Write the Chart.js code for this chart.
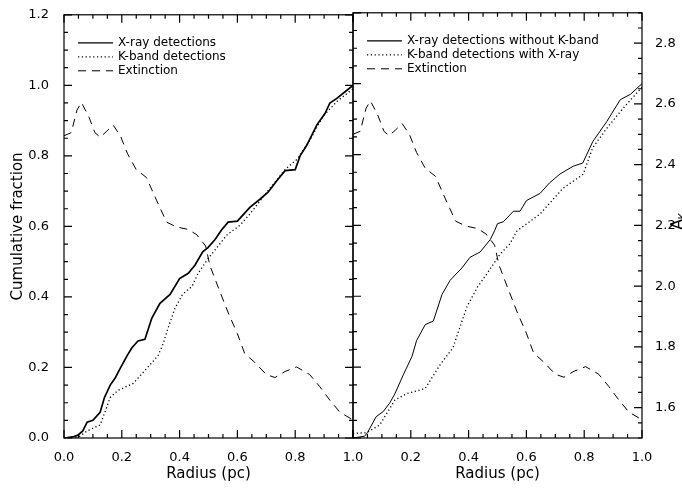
<!DOCTYPE html>
<html>
<head>
<meta charset="utf-8">
<script src="https://cdn.jsdelivr.net/npm/chart.js@4.4.1/dist/chart.umd.min.js"></script>
<style>
  html, body { margin: 0; padding: 0; background: #fff; }
  #wrap { position: relative; width: 682px; height: 489px; overflow: hidden; }
  #wrap canvas { position: absolute; top: 0; }
</style>
</head>
<body>
<div id="wrap">
  <canvas id="leftChart" width="380" height="489" style="left:0;width:380px;height:489px"></canvas>
  <canvas id="rightChart" width="336" height="489" style="left:346px;width:336px;height:489px"></canvas>
</div>
<script>
// left panel: all X-ray vs all K-band detections
const xrayR = [0, 0.03, 0.048, 0.065, 0.08, 0.10, 0.125, 0.14, 0.16, 0.177, 0.194, 0.218, 0.235, 0.256, 0.28, 0.304, 0.332, 0.367, 0.40, 0.43, 0.453, 0.48, 0.498, 0.522, 0.545, 0.568, 0.60, 0.643, 0.678, 0.706, 0.737, 0.765, 0.80, 0.817, 0.84, 0.875, 0.903, 0.92, 0.944, 0.979, 1.0];
const xrayF = [0, 0.003, 0.008, 0.02, 0.045, 0.05, 0.073, 0.115, 0.15, 0.17, 0.197, 0.233, 0.256, 0.275, 0.28, 0.34, 0.382, 0.407, 0.452, 0.467, 0.49, 0.528, 0.54, 0.562, 0.59, 0.612, 0.615, 0.654, 0.677, 0.697, 0.73, 0.758, 0.761, 0.80, 0.83, 0.888, 0.92, 0.95, 0.963, 0.986, 1.0];

const kbandR = [0, 0.03, 0.055, 0.08, 0.125, 0.14, 0.16, 0.187, 0.24, 0.273, 0.325, 0.343, 0.36, 0.384, 0.41, 0.443, 0.464, 0.498, 0.564, 0.61, 0.643, 0.702, 0.765, 0.806, 0.851, 0.896, 0.945, 1.0];
const kbandF = [0, 0, 0.005, 0.02, 0.037, 0.07, 0.115, 0.135, 0.155, 0.185, 0.233, 0.267, 0.312, 0.368, 0.407, 0.43, 0.467, 0.508, 0.576, 0.604, 0.635, 0.697, 0.761, 0.79, 0.845, 0.912, 0.955, 0.99];

// right panel: X-ray without K-band, K-band with X-ray
const xnokR = [0, 0.04, 0.05, 0.08, 0.105, 0.128, 0.145, 0.175, 0.204, 0.22, 0.25, 0.278, 0.308, 0.336, 0.377, 0.405, 0.44, 0.475, 0.49, 0.50, 0.52, 0.555, 0.578, 0.60, 0.623, 0.647, 0.68, 0.716, 0.762, 0.795, 0.83, 0.878, 0.925, 0.96, 1.0];
const xnokF = [0, 0.005, 0.015, 0.06, 0.075, 0.10, 0.125, 0.18, 0.23, 0.275, 0.32, 0.33, 0.405, 0.445, 0.48, 0.51, 0.525, 0.56, 0.585, 0.605, 0.61, 0.64, 0.64, 0.67, 0.68, 0.69, 0.72, 0.745, 0.767, 0.776, 0.837, 0.893, 0.955, 0.97, 1.0];

const kwxR = [0, 0.047, 0.093, 0.145, 0.185, 0.25, 0.30, 0.346, 0.394, 0.43, 0.463, 0.51, 0.543, 0.567, 0.647, 0.727, 0.796, 0.83, 0.878, 0.934, 1.0];
const kwxF = [0.013, 0.015, 0.037, 0.107, 0.125, 0.14, 0.205, 0.255, 0.37, 0.425, 0.463, 0.52, 0.548, 0.584, 0.632, 0.705, 0.744, 0.82, 0.874, 0.93, 0.99];

// extinction A_K vs radius (same curve in both panels, right axis)
const extR = [0, 0.025, 0.045, 0.06, 0.085, 0.107, 0.125, 0.148, 0.17, 0.195, 0.22, 0.25, 0.285, 0.32, 0.355, 0.39, 0.43, 0.46, 0.49, 0.505, 0.535, 0.57, 0.60, 0.625, 0.66, 0.70, 0.73, 0.765, 0.805, 0.85, 0.885, 0.92, 0.955, 1.0];
const extA = [2.50, 2.51, 2.585, 2.61, 2.565, 2.51, 2.495, 2.515, 2.535, 2.50, 2.44, 2.388, 2.362, 2.287, 2.214, 2.198, 2.19, 2.172, 2.135, 2.07, 1.995, 1.91, 1.845, 1.78, 1.75, 1.71, 1.70, 1.72, 1.735, 1.71, 1.67, 1.625, 1.585, 1.56];

// tick labels
const radiusTicks = [0, 0.2, 0.4, 0.6, 0.8, 1.0];
const fracTicks = [0, 0.2, 0.4, 0.6, 0.8, 1.0, 1.2];
const akTicks = [1.6, 1.8, 2.0, 2.2, 2.4, 2.6, 2.8];

const FONT = "'DejaVu Sans', sans-serif";

function pts(xs, ys) {
    return xs.map((x, i) => ({ x: x, y: ys[i] }));
}

function isMajor(v, step) {
    return Math.abs(v / step - Math.round(v / step)) < 1e-6;
}

// IDL style box with inward ticks on all four sides + legend inside
function idlFrame(rightAxis, legendItems, rightTitle) {
    return {
        id: 'idlFrame',
        afterDatasetsDraw(chart) {
            const ctx = chart.ctx, a = chart.chartArea;
            const xs = chart.scales.x, ys = chart.scales.y, y2 = chart.scales[rightAxis];
            ctx.save();
            ctx.strokeStyle = '#000';
            ctx.lineWidth = 1.2;
            ctx.setLineDash([]);
            ctx.strokeRect(a.left, a.top, a.width, a.height);
            ctx.beginPath();
            for (let i = 0; i <= 20; i++) {
                const v = i * 0.05;
                const px = xs.getPixelForValue(v);
                const len = isMajor(v, 0.2) ? 8 : 4;
                ctx.moveTo(px, a.bottom); ctx.lineTo(px, a.bottom - len);
                ctx.moveTo(px, a.top); ctx.lineTo(px, a.top + len);
            }
            for (let i = 0; i <= 24; i++) {
                const v = i * 0.05;
                const py = ys.getPixelForValue(v);
                const len = isMajor(v, 0.2) ? 8 : 4;
                ctx.moveTo(a.left, py); ctx.lineTo(a.left + len, py);
            }
            const n = Math.round((y2.max - y2.min) / 0.05);
            for (let i = 0; i <= n; i++) {
                const v = y2.min + i * 0.05;
                const py = y2.getPixelForValue(v);
                const len = isMajor(v, 0.2) ? 8 : 4;
                ctx.moveTo(a.right, py); ctx.lineTo(a.right - len, py);
            }
            ctx.stroke();

            // legend
            ctx.font = '12px ' + FONT;
            ctx.fillStyle = '#000';
            ctx.textBaseline = 'middle';
            legendItems.forEach((it, k) => {
                const y = a.top + 28 + k * 14;
                ctx.beginPath();
                ctx.lineWidth = it.width;
                ctx.setLineDash(it.dash);
                ctx.moveTo(a.left + 14, y);
                ctx.lineTo(a.left + 49, y);
                ctx.stroke();
                ctx.fillText(it.label, a.left + 54, y);
            });

            // right-hand axis title A_K, reading bottom to top
            if (rightTitle) {
                ctx.translate(a.right + 35, (a.top + a.bottom) / 2 - 2);
                ctx.rotate(-Math.PI / 2);
                ctx.textBaseline = 'alphabetic';
                ctx.font = '15px ' + FONT;
                ctx.fillText('A', -6, 5);
                ctx.font = '10px ' + FONT;
                ctx.fillText('K', 4, 9);
            }
            ctx.restore();
        }
    };
}

const solid = { dash: [], width: 1 };
const dotted = { dash: [1.2, 2.6], width: 1.3 };
const dashed = { dash: [8, 6], width: 1 };

function lineSet(label, data, style, axis, w) {
    return {
        label: label,
        data: data,
        yAxisID: axis,
        showLine: true,
        borderColor: '#000',
        borderWidth: w || style.width,
        borderDash: style.dash,
        pointRadius: 0,
        fill: false,
        tension: 0
    };
}

function fixedTicks(list) {
    return s => { s.ticks = list.map(v => ({ value: v })); };
}

function xAxis(hideFirst) {
    return {
        type: 'linear',
        min: 0,
        max: 1,
        grid: { display: false },
        border: { display: false },
        afterBuildTicks: fixedTicks(radiusTicks),
        ticks: {
            autoSkip: false,
            maxRotation: 0,
            padding: 4,
            color: '#000',
            font: { family: FONT, size: 13 },
            callback: v => (hideFirst && v === 0) ? '' : v.toFixed(1)
        },
        title: {
            display: true,
            text: 'Radius (pc)',
            color: '#000',
            font: { family: FONT, size: 15 },
            padding: { top: 0, bottom: 6 }
        },
        afterFit: s => { s.height = 51; }
    };
}

const fracAxis = {
    min: 0,
    max: 1.2,
    position: 'left',
    grid: { display: false },
    border: { display: false },
    afterBuildTicks: fixedTicks(fracTicks),
    ticks: {
        padding: 7,
        color: '#000',
        font: { family: FONT, size: 13 },
        callback: v => v.toFixed(1)
    },
    title: {
        display: true,
        text: 'Cumulative fraction',
        color: '#000',
        font: { family: FONT, size: 15 },
        padding: { top: 9, bottom: 0 }
    },
    afterFit: s => { s.width = 64; }
};

new Chart(document.getElementById('leftChart').getContext('2d'), {
    type: 'scatter',
    data: {
        datasets: [
            lineSet('X-ray detections', pts(xrayR, xrayF), solid, 'y', 1.7),
            lineSet('K-band detections', pts(kbandR, kbandF), dotted, 'y'),
            lineSet('Extinction', pts(extR, extA), dashed, 'y1')
        ]
    },
    options: {
        responsive: false,
        animation: false,
        events: [],
        layout: { padding: { top: 11, right: 27, left: 0, bottom: 0 } },
        plugins: { legend: { display: false }, tooltip: { enabled: false } },
        scales: {
            x: xAxis(false),
            y: fracAxis,
            y1: { display: false, min: 1.5, max: 2.9 }
        }
    },
    plugins: [idlFrame('y', [
        { label: 'X-ray detections', dash: [], width: 1.2 },
        { label: 'K-band detections', dash: dotted.dash, width: 1.3 },
        { label: 'Extinction', dash: dashed.dash, width: 1 }
    ], false)]
});

new Chart(document.getElementById('rightChart').getContext('2d'), {
    type: 'scatter',
    data: {
        datasets: [
            lineSet('X-ray detections without K-band', pts(xnokR, xnokF), solid, 'y'),
            lineSet('K-band detections with X-ray', pts(kwxR, kwxF), dotted, 'y'),
            lineSet('Extinction', pts(extR, extA), dashed, 'y1')
        ]
    },
    options: {
        responsive: false,
        animation: false,
        events: [],
        layout: { padding: { top: 11, right: 0, left: 7, bottom: 0 } },
        plugins: { legend: { display: false }, tooltip: { enabled: false } },
        scales: {
            x: xAxis(true),
            y: { display: false, min: 0, max: 1.2 },
            y1: {
                position: 'right',
                min: 1.5,
                max: 2.9,
                grid: { display: false },
                border: { display: false },
                afterBuildTicks: fixedTicks(akTicks),
                ticks: {
                    padding: 5,
                    color: '#000',
                    font: { family: FONT, size: 13 },
                    callback: v => v.toFixed(1)
                },
                afterFit: s => { s.width = 40; }
            }
        }
    },
    plugins: [idlFrame('y1', [
        { label: 'X-ray detections without K-band', dash: [], width: 1.2 },
        { label: 'K-band detections with X-ray', dash: dotted.dash, width: 1.3 },
        { label: 'Extinction', dash: dashed.dash, width: 1 }
    ], true)]
});
</script>
</body>
</html>
